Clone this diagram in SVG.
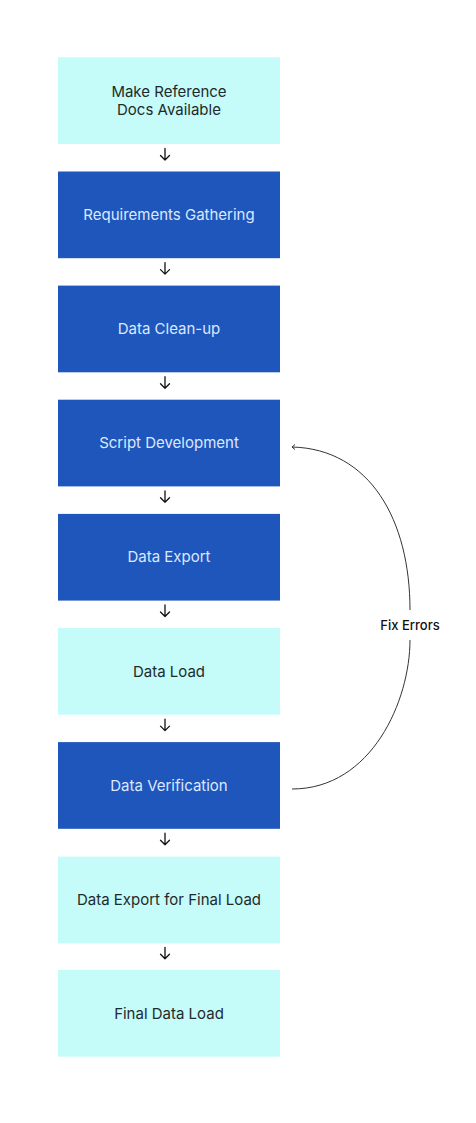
<svg xmlns="http://www.w3.org/2000/svg" width="476" height="1123" viewBox="0 0 476 1123">
<style>
.dark{fill:#1e56bc}
.light{fill:#c5fbf9}
.t{font-family:Inter,"Noto Sans",sans-serif;font-size:15px;text-anchor:middle}
.td{fill:#dce8ff}
.tl{fill:#1f2a2a}
.arr{stroke:#111;stroke-width:1.3;fill:none;stroke-linecap:round;stroke-linejoin:round}
.lbl{font-family:Inter,"Noto Sans",sans-serif;font-size:13px;font-weight:500;fill:#111;text-anchor:middle}
</style>
<rect width="476" height="1123" fill="#fff"/>
<g id="n1"><rect class="light" x="58" y="57.3" width="222" height="86.7"/><text class="t tl" x="169" y="97">Make Reference</text><text class="t tl" x="169" y="115.3">Docs Available</text></g>
<g id="n2"><rect class="dark" x="58" y="171.5" width="222" height="86.7"/><text class="t td" x="169" y="220">Requirements Gathering</text></g>
<g id="n3"><rect class="dark" x="58" y="285.6" width="222" height="86.7"/><text class="t td" x="169" y="334.1">Data Clean-up</text></g>
<g id="n4"><rect class="dark" x="58" y="399.7" width="222" height="86.7"/><text class="t td" x="169" y="448.2">Script Development</text></g>
<g id="n5"><rect class="dark" x="58" y="513.9" width="222" height="86.7"/><text class="t td" x="169" y="562.4">Data Export</text></g>
<g id="n6"><rect class="light" x="58" y="628" width="222" height="86.7"/><text class="t tl" x="169" y="676.5">Data Load</text></g>
<g id="n7"><rect class="dark" x="58" y="742.1" width="222" height="86.7"/><text class="t td" x="169" y="790.6">Data Verification</text></g>
<g id="n8"><rect class="light" x="58" y="856.6" width="222" height="86.7"/><text class="t tl" x="169" y="905.1">Data Export for Final Load</text></g>
<g id="n9"><rect class="light" x="58" y="970" width="222" height="86.7"/><text class="t tl" x="169" y="1018.5">Final Data Load</text></g>
<g id="connectors">
<path class="arr" d="M165 148.5V160M160.5 155.5L165 160L169.5 155.5"/>
<path class="arr" d="M165 262.6V274.1M160.5 269.6L165 274.1L169.5 269.6"/>
<path class="arr" d="M165 376.7V388.2M160.5 383.7L165 388.2L169.5 383.7"/>
<path class="arr" d="M165 490.8V502.3M160.5 497.8L165 502.3L169.5 497.8"/>
<path class="arr" d="M165 605V616.5M160.5 612L165 616.5L169.5 612"/>
<path class="arr" d="M165 719.1V730.6M160.5 726.1L165 730.6L169.5 726.1"/>
<path class="arr" d="M165 833.2V844.7M160.5 840.2L165 844.7L169.5 840.2"/>
<path class="arr" d="M165 947.3V958.8M160.5 954.3L165 958.8L169.5 954.3"/>
<path d="M292 789C372 789 410 700 410 640M410 610C410 520 370 449 292 447" stroke="#333" stroke-width="1" fill="none"/>
<path d="M295 444.5L292 447L295 449.5" stroke="#333" stroke-width="1" fill="none"/>
<text class="lbl" x="410" y="629.5">Fix Errors</text>
</g>
</svg>
